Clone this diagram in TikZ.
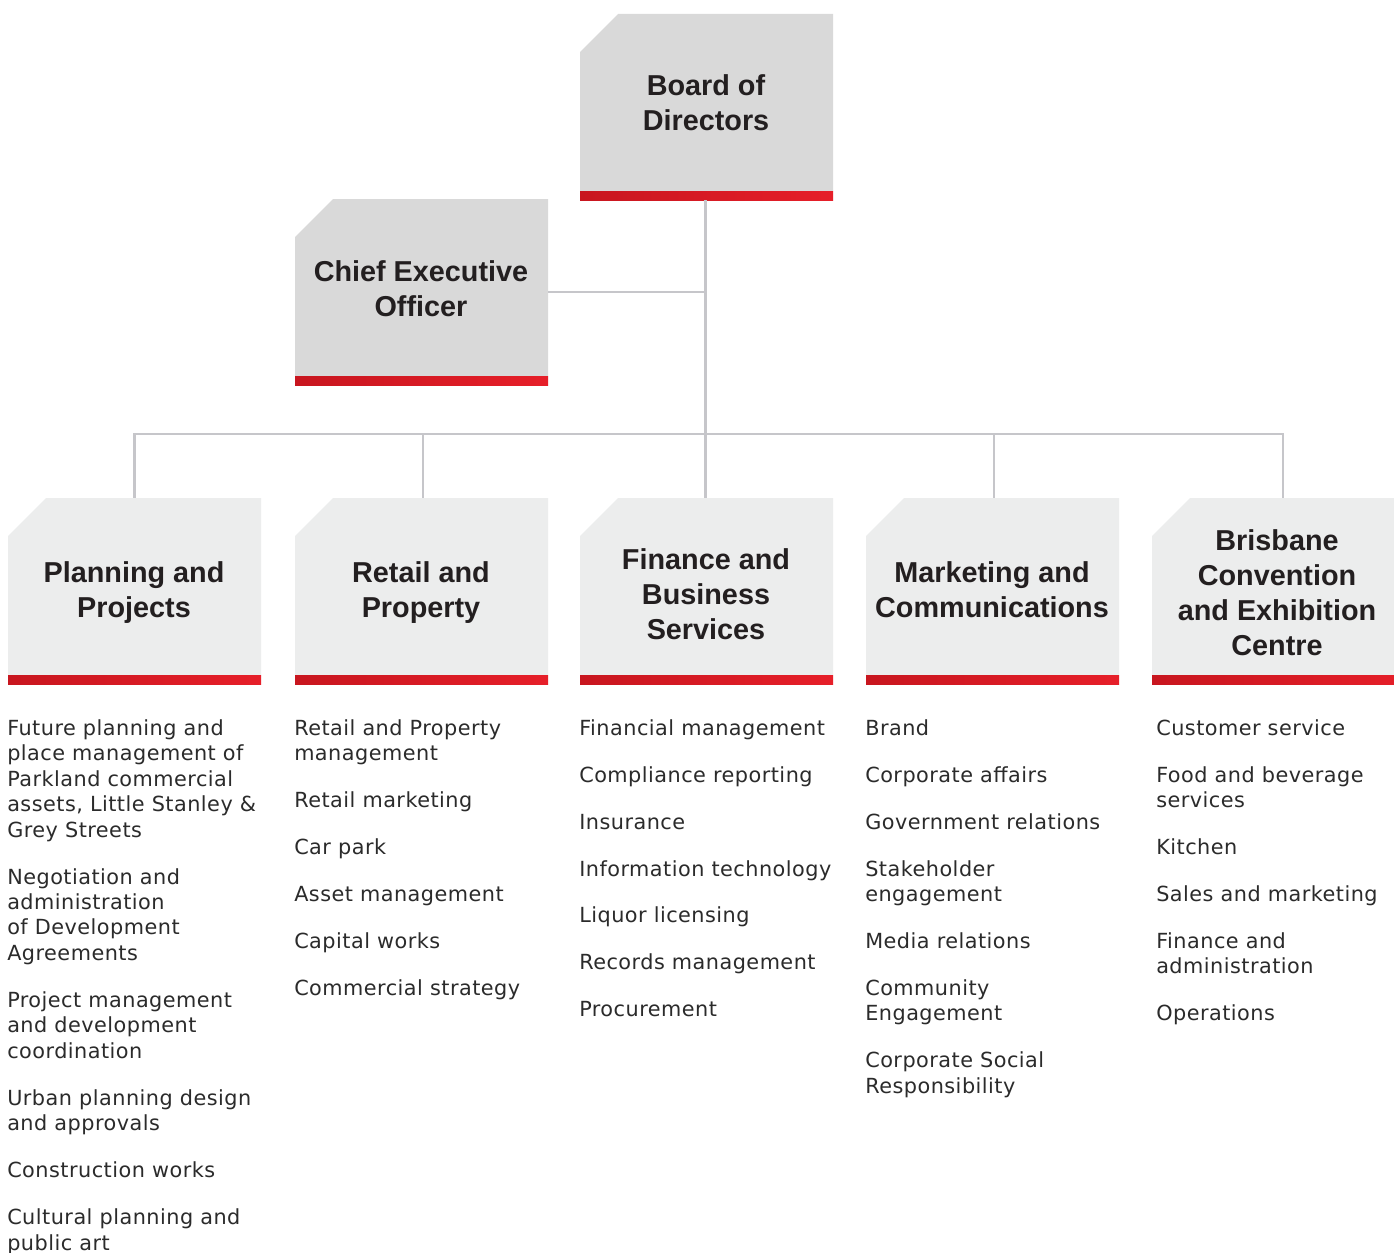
\documentclass[tikz,border=0pt]{standalone}
\usepackage{fontspec}
\setmainfont{DejaVu Sans}[LetterSpace=2.3]
\newfontfamily\hdrfont{Liberation Sans}
\definecolor{topgrey}{HTML}{D9D9D9}
\definecolor{depgrey}{HTML}{ECEDED}
\definecolor{redL}{HTML}{C8161F}
\definecolor{redR}{HTML}{E61F29}
\definecolor{connc}{HTML}{C6C6CA}
\definecolor{ink}{HTML}{231F20}
\definecolor{listink}{HTML}{2B2B2B}
\newcommand{\gp}{16.1pt}
\newcommand{\orgbox}[5]{%
  \fill[#5] (#2,#3+38) -- (#2+38,#3) -- (#2+#4,#3) -- (#2+#4,#3+177) -- (#2,#3+177) -- cycle;
  \shade[left color=redL,right color=redR] (#2,#3+177) rectangle (#2+#4,#3+186);
  \node[boxframe, minimum width=#4*0.75pt] (#1) at (#2+#4/2,#3+93) {};
}
\tikzset{
  boxframe/.style={rectangle, inner sep=0pt, minimum height=139.5pt, draw=none},
  hdr/.style={font=\hdrfont\bfseries\fontsize{21.6}{26.25}\selectfont, text=ink, align=center, inner sep=0pt},
  lst/.style={font=\fontsize{15.6}{19.1}\selectfont, text=listink, align=left, anchor=north west, inner sep=0pt},
  connector/.style={draw=connc, line width=1.9pt}
}
\begin{document}
\begin{tikzpicture}[x=0.75pt,y=-0.75pt]
\useasboundingbox (0,0) rectangle (1394,1252);
\clip (0,0) rectangle (1394,1252);
\fill[white] (0,0) rectangle (1394,1252);

\orgbox{board}{580}{14}{253}{topgrey}
\orgbox{ceo}{295}{199}{253}{topgrey}
\orgbox{planning}{8}{498}{253}{depgrey}
\orgbox{retail}{295}{498}{253}{depgrey}
\orgbox{finance}{580}{498}{253}{depgrey}
\orgbox{marketing}{866}{498}{253}{depgrey}
\orgbox{bcec}{1152}{498}{262}{depgrey}

\coordinate (bus) at (705,434);
\draw[connector] ([xshift=-0.75pt]board.south) -- ([xshift=-0.75pt]finance.north);
\draw[connector] (ceo.east) -- (ceo.east -| board.south);
\draw[connector] (planning.north) -- (planning.north |- bus) -- (bcec.north |- bus) -- (bcec.north);
\draw[connector] ([xshift=1.1pt]retail.north) -- ([xshift=1.1pt]retail.north |- bus);
\draw[connector] ([xshift=1.1pt]marketing.north) -- ([xshift=1.1pt]marketing.north |- bus);

\node[hdr] (board-t) at (706,106) {\rule{0pt}{0.73em}Board of\\Directors\rule[-0.21em]{0pt}{0pt}};
\node[hdr] (ceo-t) at (421,291.5) {\rule{0pt}{0.73em}Chief Executive\\Officer\rule[-0.21em]{0pt}{0pt}};
\node[hdr] (planning-t) at (134,592.5) {\rule{0pt}{0.73em}Planning and\\Projects\rule[-0.21em]{0pt}{0pt}};
\node[hdr] (retail-t) at (421,592.5) {\rule{0pt}{0.73em}Retail and\\Property\rule[-0.21em]{0pt}{0pt}};
\node[hdr] (finance-t) at (706,597) {\rule{0pt}{0.73em}Finance and\\Business\\Services\rule[-0.21em]{0pt}{0pt}};
\node[hdr] (marketing-t) at (992,592.5) {\rule{0pt}{0.73em}Marketing and\\Communications\rule[-0.21em]{0pt}{0pt}};
\node[hdr] (bcec-t) at (1277,595.5) {\rule{0pt}{0.73em}Brisbane\\Convention\\and Exhibition\\Centre\rule[-0.21em]{0pt}{0pt}};

\node[lst] (planning-l) at (7,716.3) {\rule{0pt}{14pt}Future planning and\\place management of\\Parkland commercial\\assets, Little Stanley \&\\Grey Streets\\[\gp]Negotiation and\\administration\\of Development\\Agreements\\[\gp]Project management\\and development\\coordination\\[\gp]Urban planning design\\and approvals\\[\gp]Construction works\\[\gp]Cultural planning and\\public art};
\node[lst] (retail-l) at (294,716.3) {\rule{0pt}{14pt}Retail and Property\\management\\[\gp]Retail marketing\\[\gp]Car park\\[\gp]Asset management\\[\gp]Capital works\\[\gp]Commercial strategy};
\node[lst] (finance-l) at (579,716.3) {\rule{0pt}{14pt}Financial management\\[\gp]Compliance reporting\\[\gp]Insurance\\[\gp]Information technology\\[\gp]Liquor licensing\\[\gp]Records management\\[\gp]Procurement};
\node[lst] (marketing-l) at (865,716.3) {\rule{0pt}{14pt}Brand\\[\gp]Corporate affairs\\[\gp]Government relations\\[\gp]Stakeholder\\engagement\\[\gp]Media relations\\[\gp]Community\\Engagement\\[\gp]Corporate Social\\Responsibility};
\node[lst] (bcec-l) at (1156,716.3) {\rule{0pt}{14pt}Customer service\\[\gp]Food and beverage\\services\\[\gp]Kitchen\\[\gp]Sales and marketing\\[\gp]Finance and\\administration\\[\gp]Operations};
\end{tikzpicture}
\end{document}
